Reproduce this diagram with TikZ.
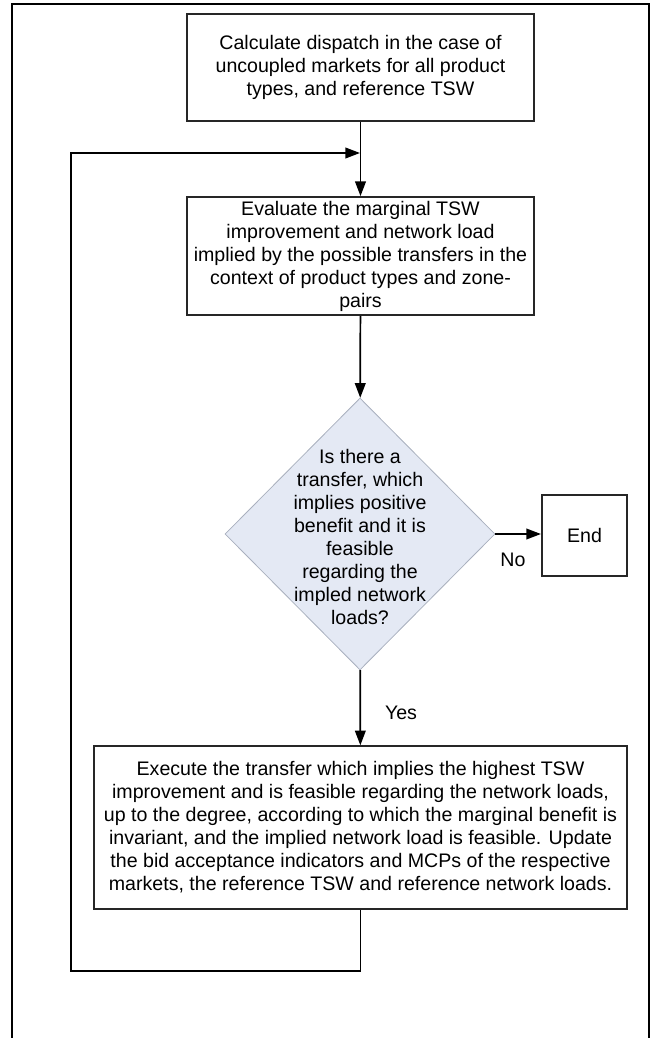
\documentclass[tikz,border=0pt]{standalone}
\usepackage{fontspec}
\setmainfont{Liberation Sans}
\usetikzlibrary{shapes.geometric,arrows.meta}

\definecolor{decfill}{HTML}{E4E9F4}
\definecolor{decline}{HTML}{A9B0BE}

\begin{document}
\begin{tikzpicture}[x=0.75pt, y=-0.75pt,
  every node/.style={font=\fontsize{14.7}{17.25}\selectfont},
  procbox/.style={draw=black!85, line width=1.3pt, align=center, inner sep=0pt},
  decision/.style={diamond, draw=decline, fill=decfill, line width=0.6pt, inner sep=0pt, minimum width=202.5pt, minimum height=204pt},
  arr/.style={line width=1.3pt, -{Triangle[length=11pt, width=8pt]}},
  frame/.style={line width=1.7pt}]
\useasboundingbox (0,0) rectangle (653,1038);

% outer frame
\draw[frame] (12,1040) -- (12,4) -- (649,4) -- (649,1040);

% boxes
\node[procbox, minimum width=260pt, minimum height=80pt] (calc) at (360.5,67.5)
  {Calculate dispatch in the case of\\uncoupled markets for all product\\types, and reference TSW};
\node[procbox, minimum width=260pt, minimum height=88.5pt] (eval) at (360.5,256)
  {Evaluate the marginal TSW\\improvement and network load\\implied by the possible transfers in the\\context of product types and zone-\\pairs};
\node[decision] (dec) at (360,534) {};
\node[align=center, inner sep=0pt] (dectext) at (360,537)
  {Is there a\\transfer, which\\implies positive\\benefit and it is\\feasible\\regarding the\\impled network\\loads?};
\node[procbox, minimum width=64pt, minimum height=61pt] (end) at (584.5,535.5) {End};
\node[procbox, minimum width=400pt, minimum height=122pt] (exec) at (360.5,827.5)
  {Execute the transfer which implies the highest TSW\\improvement and is feasible regarding the network loads,\\up to the degree, according to which the marginal benefit is\\invariant, and the implied network load is feasible. Update\\the bid acceptance indicators and MCPs of the respective\\markets, the reference TSW and reference network loads.};

% labels
\node (no) at (513,560) {No};
\node (yes) at (401,713) {Yes};

% connectors
\coordinate (loopin) at (360,153);
\coordinate (loopbl) at (71,971);
\draw[arr] (calc) -- (eval);
\draw[arr] (eval) -- (dec);
\draw[arr] (dec.east) -- (end.west |- dec.east);
\draw[arr] (dec) -- (exec);
\draw[arr] (exec.south) |- (loopbl) |- (loopin);
\end{tikzpicture}
\end{document}
